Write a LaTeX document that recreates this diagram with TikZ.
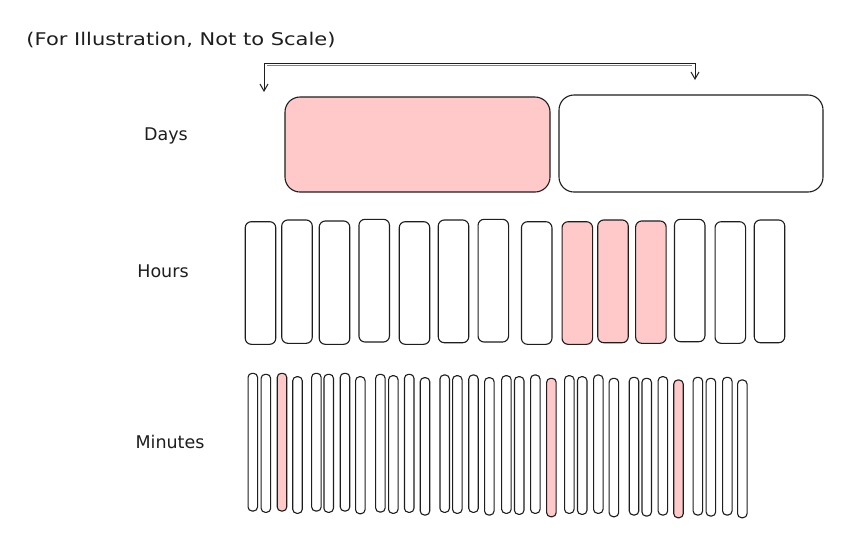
\documentclass[tikz,border=0pt]{standalone}
\usepackage{fontspec}
\setmainfont{DejaVu Sans}
\usetikzlibrary{arrows.meta}
\definecolor{ink}{HTML}{1E1E1E}
\definecolor{pinkfill}{HTML}{FFC9C9}
\begin{document}
\begin{tikzpicture}[x=1pt,y=-1pt,
  box/.style={draw=ink, line width=1.1pt, inner sep=0pt, outer sep=0pt},
  daybox/.style={box, rounded corners=15pt},
  hourbar/.style={box, rounded corners=6pt, minimum width=30.5pt},
  minbar/.style={box, rounded corners=4pt, minimum width=9.5pt},
  lbl/.style={font=\fontsize{17.5}{20}\selectfont, text=ink, inner sep=0pt},
  conn/.style={draw=ink, line width=1pt, {Straight Barb[length=7pt,width=8pt]}-{Straight Barb[length=7pt,width=8pt]}}
]
\useasboundingbox[fill=white] (0,0) rectangle (847,542);

% title
\node[lbl, xscale=1.2] (title) at (181,40) {(For Illustration, Not to Scale)};

% row labels
\node[lbl] (ldays) at (166,136) {Days};
\node[lbl] (lhours) at (163,271) {Hours};
\node[lbl] (lmin) at (170,442) {Minutes};

% days
\node[daybox, fill=pinkfill, minimum width=265pt, minimum height=95pt] (d1) at (417.5,144.5) {};
\node[daybox, fill=white, minimum width=264pt, minimum height=97pt] (d2) at (691,143.5) {};

% connector above days
\coordinate (al) at (264,92);
\coordinate (ar) at (695,80);
\draw[conn] (al) -- ++(0,-29) -| (ar);
\draw[ink!55, line width=0.8pt] (267,65.5) -- (692,65.5);

% hours
\foreach \cx/\t/\b/\f [count=\i] in {
  260.5/221.7/344.3/white, 297/220/343.3/white, 334.5/221/344.3/white,
  374.2/219.3/342/white, 414.5/221.7/344.3/white, 453.5/220/342.7/white,
  493.3/219.3/342/white, 536.7/221.7/344.3/white, 577.3/221.7/344.3/pinkfill,
  613/220/342.7/pinkfill, 650.9/221/343.3/pinkfill, 689.7/219.3/341.7/white,
  730.3/221.7/343.3/white, 769.5/220/342.7/white}
{
  \node[hourbar, fill=\f, minimum height={(\b-\t)*1pt}] (h\i) at (\cx,{(\t+\b)/2}) {};
}

% minutes
\foreach \cx/\t/\b/\f [count=\i] in {
  252.8/373.3/511/white, 265.9/374.3/512.3/white, 282/373.3/511/pinkfill, 297.5/376.7/513.3/white,
  316.4/373.3/511/white, 328.7/374.3/512.3/white, 345/373.3/511/white, 360.3/376.7/513.7/white,
  380.4/374.3/512/white, 393.3/375.7/513.3/white, 409.2/374.3/512.3/white, 425/377.7/515/white,
  444.7/375/512.3/white, 457.3/375.7/513.3/white, 473.5/375/512.3/white, 489.3/377.7/515/white,
  506.4/375.7/513.3/white, 519.2/376.7/514.3/white, 535.3/375/513.3/white, 551.4/378.3/516.7/pinkfill,
  569.3/375.7/513.3/white, 582.2/376.7/514.3/white, 598.3/375/513.3/white, 613.9/378.3/516.7/white,
  634/377.3/515/white, 646.7/378.3/516/white, 662.9/376.7/515/white, 678.5/380/517.7/pinkfill,
  697.9/377.3/515/white, 710.9/378.3/516/white, 727.3/377.3/515/white, 742.3/380/517.7/white}
{
  \node[minbar, fill=\f, minimum height={(\b-\t)*1pt}] (m\i) at (\cx,{(\t+\b)/2}) {};
}
\end{tikzpicture}
\end{document}
